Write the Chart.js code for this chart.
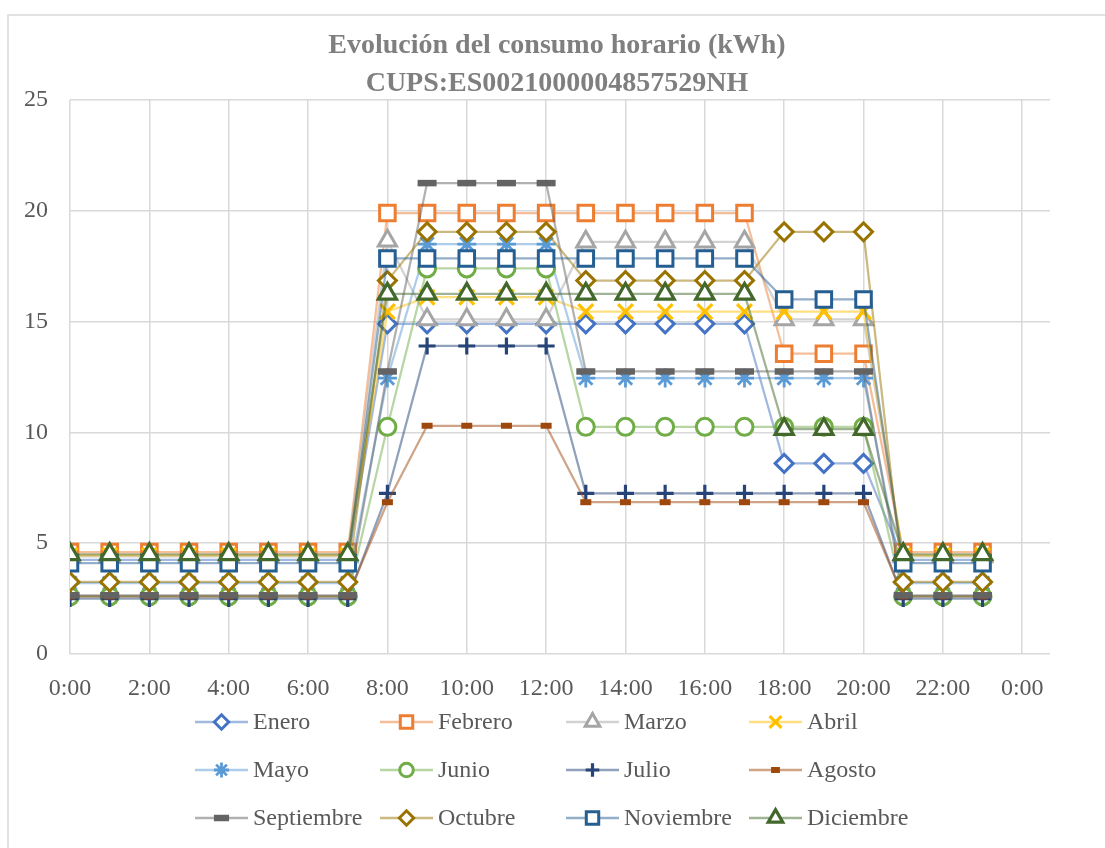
<!DOCTYPE html>
<html><head><meta charset="utf-8">
<script src="https://cdn.jsdelivr.net/npm/chart.js@4/dist/chart.umd.min.js"></script>
<style>html,body{margin:0;padding:0;background:#fff;overflow:hidden}canvas{display:block}</style>
</head><body>
<canvas id="c" width="1105" height="848"></canvas>
<script>
// ---- Data ----
const hours = [0,1,2,3,4,5,6,7,8,9,10,11,12,13,14,15,16,17,18,19,20,21,22,23];
const xTickValues = [0,2,4,6,8,10,12,14,16,18,20,22,24];
const yTickValues = [0,5,10,15,20,25];
const titleLines = ['Evolución del consumo horario (kWh)', 'CUPS:ES0021000004857529NH'];
const monthNames = ['Enero','Febrero','Marzo','Abril','Mayo','Junio','Julio','Agosto','Septiembre','Octubre','Noviembre','Diciembre'];

const enero      = [4.25,4.25,4.25,4.25,4.25,4.25,4.25,4.25,14.9,14.9,14.9,14.9,14.9,14.9,14.9,14.9,14.9,14.9,8.6,8.6,8.6,4.25,4.25,4.25];
const febrero    = [4.6,4.6,4.6,4.6,4.6,4.6,4.6,4.6,19.9,19.9,19.9,19.9,19.9,19.9,19.9,19.9,19.9,19.9,13.55,13.55,13.55,4.6,4.6,4.6];
const marzo      = [4.4,4.4,4.4,4.4,4.4,4.4,4.4,4.4,18.65,15.1,15.1,15.1,15.1,18.6,18.6,18.6,18.6,18.6,15.1,15.1,15.1,4.4,4.4,4.4];
const abril      = [4.45,4.45,4.45,4.45,4.45,4.45,4.45,4.45,15.45,16.1,16.1,16.1,16.1,15.45,15.45,15.45,15.45,15.45,15.45,15.45,15.45,4.45,4.45,4.45];
const mayo       = [3.2,3.2,3.2,3.2,3.2,3.2,3.2,3.2,12.45,18.5,18.5,18.5,18.5,12.45,12.45,12.45,12.45,12.45,12.45,12.45,12.45,3.2,3.2,3.2];
const junio      = [2.6,2.6,2.6,2.6,2.6,2.6,2.6,2.6,10.25,17.4,17.4,17.4,17.4,10.25,10.25,10.25,10.25,10.25,10.25,10.25,10.25,2.6,2.6,2.6];
const julio      = [2.5,2.5,2.5,2.5,2.5,2.5,2.5,2.5,7.25,13.9,13.9,13.9,13.9,7.25,7.25,7.25,7.25,7.25,7.25,7.25,7.25,2.5,2.5,2.5];
const agosto     = [2.6,2.6,2.6,2.6,2.6,2.6,2.6,2.6,6.85,10.3,10.3,10.3,10.3,6.85,6.85,6.85,6.85,6.85,6.85,6.85,6.85,2.6,2.6,2.6];
const septiembre = [2.65,2.65,2.65,2.65,2.65,2.65,2.65,2.65,12.75,21.25,21.25,21.25,21.25,12.75,12.75,12.75,12.75,12.75,12.75,12.75,12.75,2.65,2.65,2.65];
const octubre    = [3.25,3.25,3.25,3.25,3.25,3.25,3.25,3.25,16.85,19.05,19.05,19.05,19.05,16.85,16.85,16.85,16.85,16.85,19.05,19.05,19.05,3.25,3.25,3.25];
const noviembre  = [4.1,4.1,4.1,4.1,4.1,4.1,4.1,4.1,17.85,17.85,17.85,17.85,17.85,17.85,17.85,17.85,17.85,17.85,16.0,16.0,16.0,4.1,4.1,4.1];
const diciembre  = [4.5,4.5,4.5,4.5,4.5,4.5,4.5,4.5,16.25,16.25,16.25,16.25,16.25,16.25,16.25,16.25,16.25,16.25,10.15,10.15,10.15,4.5,4.5,4.5];

const seriesValues = [enero,febrero,marzo,abril,mayo,junio,julio,agosto,septiembre,octubre,noviembre,diciembre];

// ---- Styles ----
const colors = ['#4472C4','#ED7D31','#A5A5A5','#FFC000','#5B9BD5','#70AD47','#264478','#9E480E','#636363','#997300','#255E91','#43682B'];
const markers = [
  {style:'rectRot', r:9, w:3},
  {style:'rect', r:11, w:3},
  {style:'triangle', r:10.5, w:3},
  {style:'crossRot', r:10.5, w:3.2},
  {style:'star', r:9.5, w:2.8},
  {style:'circle', r:8.5, w:3},
  {style:'cross', r:8.5, w:3.2},
  {style:'line', r:5.5, w:6},
  {style:'line', r:9.5, w:6.5},
  {style:'rectRot', r:9, w:3},
  {style:'rect', r:11, w:3},
  {style:'triangle', r:10.5, w:3.2}
];
function hexA(hex, a){
  const n = parseInt(hex.slice(1),16);
  return `rgba(${(n>>16)&255},${(n>>8)&255},${n&255},${a})`;
}
const FONT = '"Liberation Serif", "Times New Roman", serif';

const datasets = monthNames.map((name,i)=>({
  label: name,
  data: hours.map((h,k)=>({x:h, y:seriesValues[i][k]})),
  borderColor: hexA(colors[i],0.5),
  borderWidth: 2.25,
  pointStyle: markers[i].style,
  pointRadius: markers[i].r,
  pointHoverRadius: markers[i].r,
  pointBorderWidth: markers[i].w,
  pointBorderColor: colors[i],
  pointBackgroundColor: (markers[i].style==='line'||markers[i].style==='cross'||markers[i].style==='crossRot'||markers[i].style==='star') ? colors[i] : '#ffffff',
  tension: 0,
  order: 11 - i,
  fill: false
}));

function drawMarker(ctx, st, r, bw, color, fillc, x, y){
  if (Chart.helpers && Chart.helpers.drawPoint){
    ctx.save();
    ctx.strokeStyle = color; ctx.fillStyle = fillc; ctx.lineWidth = bw;
    Chart.helpers.drawPoint(ctx, {pointStyle:st, radius:r, rotation:0, borderWidth:bw}, x, y);
    ctx.restore();
  }
}

const framePlugin = {
  id:'frame',
  beforeDraw(chart){
    const ctx = chart.ctx;
    ctx.save();
    ctx.fillStyle = '#fff';
    ctx.fillRect(0,0,chart.width,chart.height);
    ctx.strokeStyle = '#d9d9d9';
    ctx.lineWidth = 1.5;
    ctx.strokeRect(8, 15, 1200, 900);
    ctx.restore();
  },
  afterDraw(chart){
    const ctx = chart.ctx;
    ctx.save();
    // title
    ctx.fillStyle = '#7f7f7f';
    ctx.font = 'bold 28px ' + FONT;
    ctx.textAlign = 'center';
    ctx.textBaseline = 'middle';
    ctx.fillText(titleLines[0], 557, 46);
    ctx.fillText(titleLines[1], 557, 84);
    // legend
    const colX = [195, 380, 566, 749];
    const rowY = [722, 770, 818];
    ctx.font = '24px ' + FONT;
    ctx.textAlign = 'left';
    ctx.fillStyle = '#595959';
    datasets.forEach((ds,i)=>{
      const x0 = colX[i%4], y = rowY[Math.floor(i/4)];
      ctx.save();
      ctx.strokeStyle = ds.borderColor;
      ctx.lineWidth = 2.5;
      ctx.beginPath(); ctx.moveTo(x0, y); ctx.lineTo(x0+53, y); ctx.stroke();
      ctx.restore();
      drawMarker(ctx, ds.pointStyle, ds.pointRadius*0.8, ds.pointBorderWidth, ds.pointBorderColor, ds.pointBackgroundColor, x0+26.5, y);
      ctx.fillStyle = '#595959';
      ctx.textBaseline = 'middle';
      ctx.fillText(ds.label, x0+58, y+1);
    });
    ctx.restore();
  }
};

new Chart(document.getElementById('c'), {
  type: 'line',
  data: { datasets },
  plugins: [framePlugin],
  options: {
    responsive: false,
    animation: false,
    devicePixelRatio: 1,
    layout: { padding: { top: 100, right: 55, bottom: 0, left: 0 } },
    plugins: { legend: { display: false }, tooltip: { enabled: false }, title: { display: false } },
    scales: {
      x: {
        type: 'linear',
        min: 0, max: 24.7,
        afterBuildTicks(scale){ scale.ticks = xTickValues.map(v=>({value:v})); },
        afterFit(scale){ scale.height = 194; },
        grid: { color: '#d9d9d9', lineWidth: 1.5, drawTicks: false },
        border: { display: false },
        ticks: { padding: 20, color: '#595959', font: { family: FONT, size: 24 }, maxRotation: 0, autoSkip: false,
          callback: v => (v % 24) + ':00' }
      },
      y: {
        min: 0, max: 25,
        afterBuildTicks(scale){ scale.ticks = yTickValues.map(v=>({value:v})); },
        afterFit(scale){ scale.width = 70; },
        grid: { color: '#d9d9d9', lineWidth: 1.5, drawTicks: false },
        border: { display: false },
        ticks: { padding: 22, color: '#595959', font: { family: FONT, size: 24 } }
      }
    }
  }
});
</script>
</body></html>
